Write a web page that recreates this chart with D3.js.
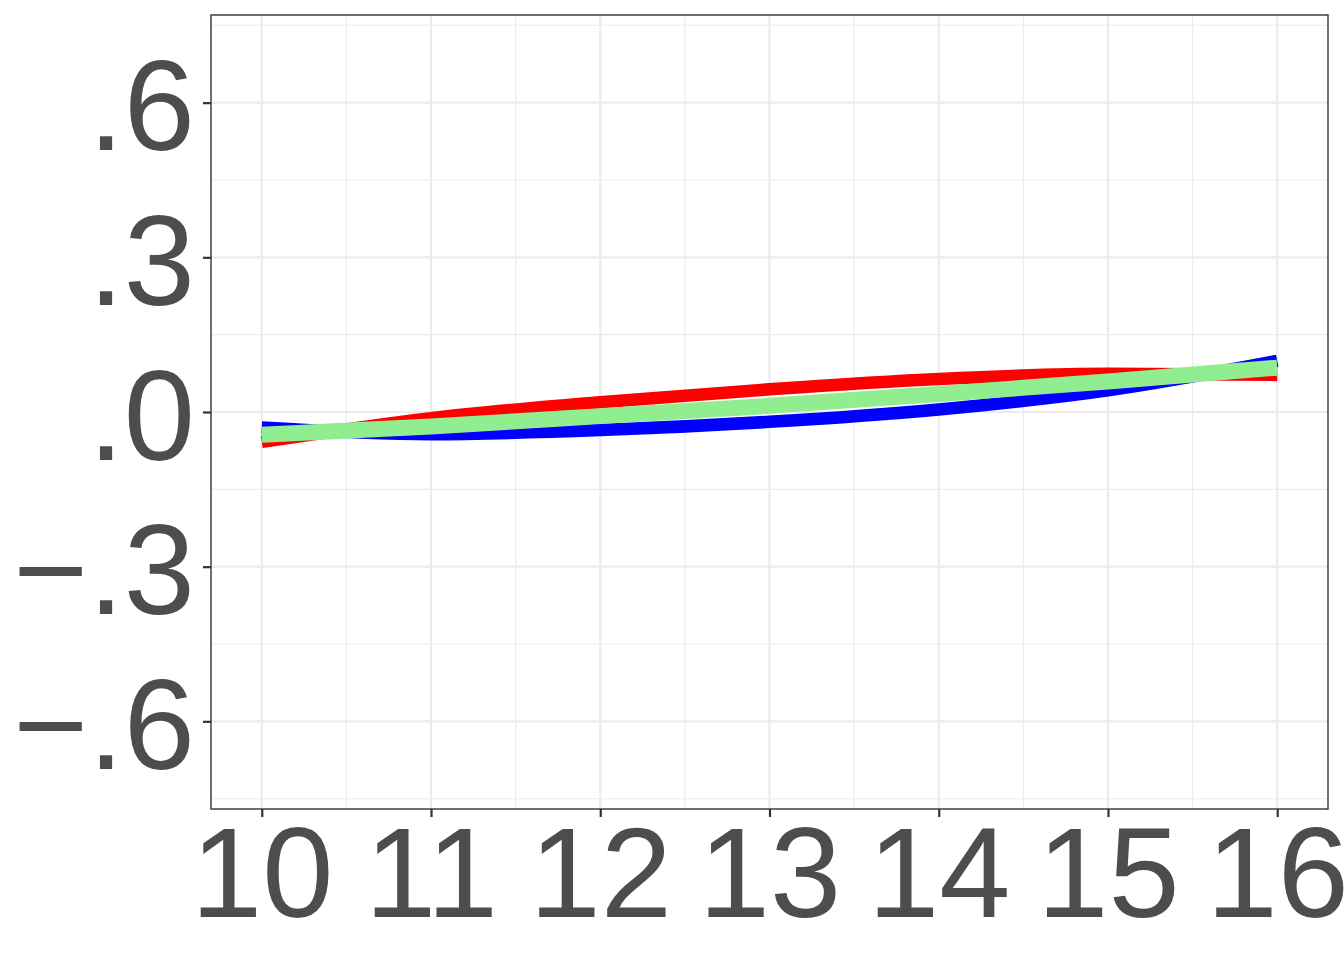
<!DOCTYPE html>
<html>
<head>
<meta charset="utf-8">
<script src="https://cdn.jsdelivr.net/npm/d3@7"></script>
<style>
  html, body { margin: 0; padding: 0; background: #ffffff; }
  svg { display: block; }
  text { font-family: "Liberation Sans", Arial, Helvetica, sans-serif; }
</style>
</head>
<body>
<script>
// ---- data ----
const xValues = [10, 11, 12, 13, 14, 15, 16];
const redValues = [-0.058, -0.012, 0.019, 0.044, 0.064, 0.074, 0.072];
const blueValues = [-0.030, -0.043, -0.035, -0.019, 0.005, 0.042, 0.099];
const greenValues = [-0.044, -0.028, -0.008, 0.012, 0.035, 0.059, 0.086];
const xTicks = [10, 11, 12, 13, 14, 15, 16];
const xMinor = [10.5, 11.5, 12.5, 13.5, 14.5, 15.5];
const yTicks = [-0.6, -0.3, 0, 0.3, 0.6];
const yTickLabels = ["\u2212.6", "\u2212.3", ".0", ".3", ".6"];
const yMinor = [-0.75, -0.45, -0.15, 0.15, 0.45, 0.75];
const seriesNames = ["red", "blue", "green"];
const seriesColors = ["#FF0000", "#0000FF", "#90EE90"];
const seriesWidths = [12.5, 12.5, 16];

// ---- layout ----
const W = 1344, H = 960;
const panel = { left: 211, right: 1328, top: 15, bottom: 809 };

const svg = d3.select("body").append("svg").attr("width", W).attr("height", H);

const x = d3.scaleLinear().domain([9.7, 16.3]).range([panel.left, panel.right]);
const y = d3.scaleLinear().domain([-0.77, 0.77]).range([panel.bottom, panel.top]);

svg.append("rect")
  .attr("x", panel.left).attr("y", panel.top)
  .attr("width", panel.right - panel.left).attr("height", panel.bottom - panel.top)
  .attr("fill", "#ffffff");

const grid = svg.append("g");
grid.selectAll("line.xminor").data(xMinor).enter().append("line")
  .attr("x1", d => x(d)).attr("x2", d => x(d))
  .attr("y1", panel.top).attr("y2", panel.bottom)
  .attr("stroke", "#EBEBEB").attr("stroke-width", 1.1);
grid.selectAll("line.yminor").data(yMinor).enter().append("line")
  .attr("y1", d => y(d)).attr("y2", d => y(d))
  .attr("x1", panel.left).attr("x2", panel.right)
  .attr("stroke", "#EBEBEB").attr("stroke-width", 1.1);
grid.selectAll("line.xmajor").data(xTicks).enter().append("line")
  .attr("x1", d => x(d)).attr("x2", d => x(d))
  .attr("y1", panel.top).attr("y2", panel.bottom)
  .attr("stroke", "#EBEBEB").attr("stroke-width", 2.2);
grid.selectAll("line.ymajor").data(yTicks).enter().append("line")
  .attr("y1", d => y(d)).attr("y2", d => y(d))
  .attr("x1", panel.left).attr("x2", panel.right)
  .attr("stroke", "#EBEBEB").attr("stroke-width", 2.2);

const allSeries = [redValues, blueValues, greenValues];
svg.append("clipPath").attr("id", "clip").append("rect")
  .attr("x", panel.left).attr("y", panel.top)
  .attr("width", panel.right - panel.left).attr("height", panel.bottom - panel.top);
const lineGen = d3.line()
  .x((d, i) => x(xValues[i]))
  .y(d => y(d))
  .curve(d3.curveMonotoneX);
svg.append("g").attr("clip-path", "url(#clip)")
  .selectAll("path").data(allSeries).enter().append("path")
  .attr("d", d => lineGen(d))
  .attr("fill", "none")
  .attr("stroke", (d, i) => seriesColors[i])
  .attr("stroke-width", (d, i) => seriesWidths[i])
  .attr("stroke-linecap", "butt")
  .attr("stroke-linejoin", "round")
  .attr("class", (d, i) => seriesNames[i]);

svg.append("rect")
  .attr("x", panel.left).attr("y", panel.top)
  .attr("width", panel.right - panel.left).attr("height", panel.bottom - panel.top)
  .attr("fill", "none").attr("stroke", "#333333").attr("stroke-width", 1.4);

const fontSize = 128;
const xAxis = d3.axisBottom(x).tickValues(xTicks).tickSize(8).tickPadding(6).tickFormat(d3.format("d"));
const gx = svg.append("g").attr("transform", `translate(0,${panel.bottom})`).call(xAxis);
gx.select(".domain").remove();
gx.selectAll(".tick line").attr("stroke", "#333333").attr("stroke-width", 2.2);
gx.selectAll(".tick text")
  .attr("fill", "#4D4D4D")
  .attr("font-size", fontSize)
  .attr("dy", null)
  .attr("y", 108);

const yAxis = d3.axisLeft(y).tickValues(yTicks).tickSize(8).tickPadding(8)
  .tickFormat((d, i) => yTickLabels[i]);
const gy = svg.append("g").attr("transform", `translate(${panel.left},0)`).call(yAxis);
gy.select(".domain").remove();
gy.selectAll(".tick line").attr("stroke", "#333333").attr("stroke-width", 2.2);
gy.selectAll(".tick text")
  .attr("fill", "#4D4D4D")
  .attr("font-size", fontSize)
  .attr("dy", null)
  .attr("x", -16)
  .attr("y", 47);
</script>
</body>
</html>
